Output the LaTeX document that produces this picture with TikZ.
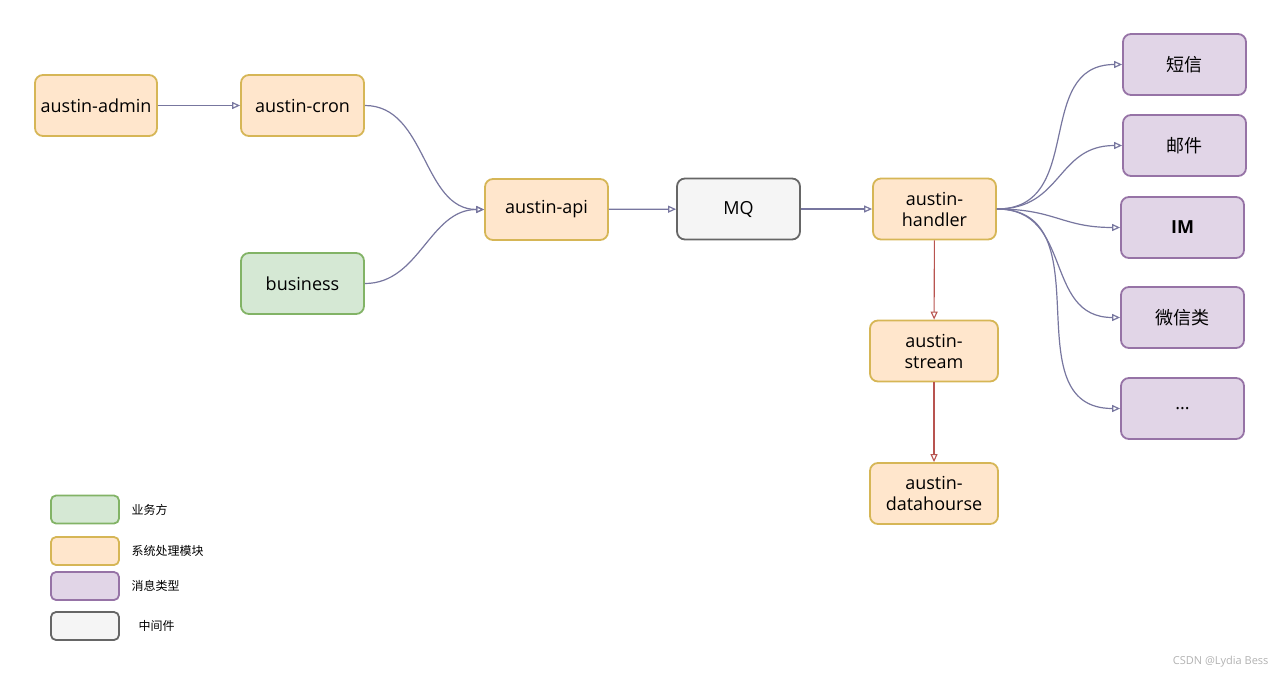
\documentclass[tikz,border=0pt]{standalone}
\usepackage{fontspec}
\setmainfont{Open Sans}
\newfontfamily\cjk{Noto Sans CJK SC}
\usetikzlibrary{arrows.meta}

\definecolor{sysfill}{HTML}{FFE6CC}
\definecolor{sysline}{HTML}{D6B656}
\definecolor{bizfill}{HTML}{D5E8D4}
\definecolor{bizline}{HTML}{82B366}
\definecolor{msgfill}{HTML}{E1D5E7}
\definecolor{msgline}{HTML}{9673A6}
\definecolor{midfill}{HTML}{F5F5F5}
\definecolor{midline}{HTML}{666666}
\definecolor{flowline}{HTML}{77769F}
\definecolor{downline}{HTML}{B85450}

\begin{document}
\begin{tikzpicture}[
    x=1pt, y=-1pt,
    box/.style={rounded corners=8pt, line width=1.8pt, minimum width=123pt, minimum height=61pt,
        inner sep=2pt, align=center, font=\fontsize{18}{21}\selectfont},
    sysbox/.style={box, fill=sysfill, draw=sysline},
    bizbox/.style={box, fill=bizfill, draw=bizline},
    msgbox/.style={box, fill=msgfill, draw=msgline, font=\fontsize{18}{21}\selectfont\cjk},
    midbox/.style={box, fill=midfill, draw=midline},
    keybox/.style={rounded corners=5pt, line width=1.8pt, minimum width=68pt, minimum height=28pt},
    keytext/.style={anchor=west, font=\fontsize{12}{14}\selectfont\cjk},
    flow/.style={draw=flowline, line width=1.2pt, -{Triangle[open, length=8pt, width=7pt]}},
    down/.style={draw=downline, line width=1.1pt, -{Triangle[open, length=8pt, width=7pt]}},
]
\useasboundingbox (0,0) rectangle (1280,675);

% sources
\node[sysbox, minimum width=122pt] (admin) at (96,105.5) {austin-admin};
\node[sysbox] (cron) at (302.5,105.5) {austin-cron};
\node[bizbox] (business) at (302.5,283.5) {business};

% main chain
\node[sysbox] (api) at (546.5,209.5) {austin-api};
\node[midbox] (mq) at (738.5,209) {MQ};
\node[sysbox] (handler) at (934.5,209) {austin-\\handler};
\node[sysbox, minimum width=128pt] (stream) at (934,351) {austin-\\stream};
\node[sysbox, minimum width=128pt] (datahourse) at (934,493.5) {austin-\\datahourse};

% message types
\node[msgbox] (sms) at (1184.5,64.5) {短信};
\node[msgbox] (mail) at (1184.5,145.5) {邮件};
\node[msgbox] (im) at (1182.5,227.5) {\rmfamily\bfseries IM};
\node[msgbox] (wechat) at (1182.5,317.5) {微信类};
\node[msgbox] (more) at (1182.5,408.5) {\rmfamily ...};

% connectors
\draw[flow] (admin) -- (cron);
\draw[flow] (cron.east) to[out=0, in=180] (api.west);
\draw[flow] (business.east) to[out=0, in=180] (api.west);
\draw[flow] (api) -- (mq);
\draw[flow] (mq) -- (handler);
\foreach \t in {sms, mail, im, wechat, more}
    \draw[flow] (handler.east) to[out=0, in=180, looseness=1.2] (\t.west);
\draw[down] (handler) -- (stream);
\draw[down] (stream) -- (datahourse);

% legend
\node[keybox, fill=bizfill, draw=bizline] (keybiz) at (85,509.5) {};
\node[keybox, fill=sysfill, draw=sysline] (keysys) at (85,551) {};
\node[keybox, fill=msgfill, draw=msgline] (keymsg) at (85,586) {};
\node[keybox, fill=midfill, draw=midline] (keymid) at (85,626) {};
\node[keytext] (lbiz) at (128,510) {业务方};
\node[keytext] (lsys) at (128,551) {系统处理模块};
\node[keytext] (lmsg) at (128,586) {消息类型};
\node[keytext] (lmid) at (135,626) {中间件};

% watermark
\node[anchor=east, text=gray!60, font=\fontsize{11}{13}\selectfont] (mark) at (1272,662) {CSDN @Lydia Bess};

\end{tikzpicture}
\end{document}
